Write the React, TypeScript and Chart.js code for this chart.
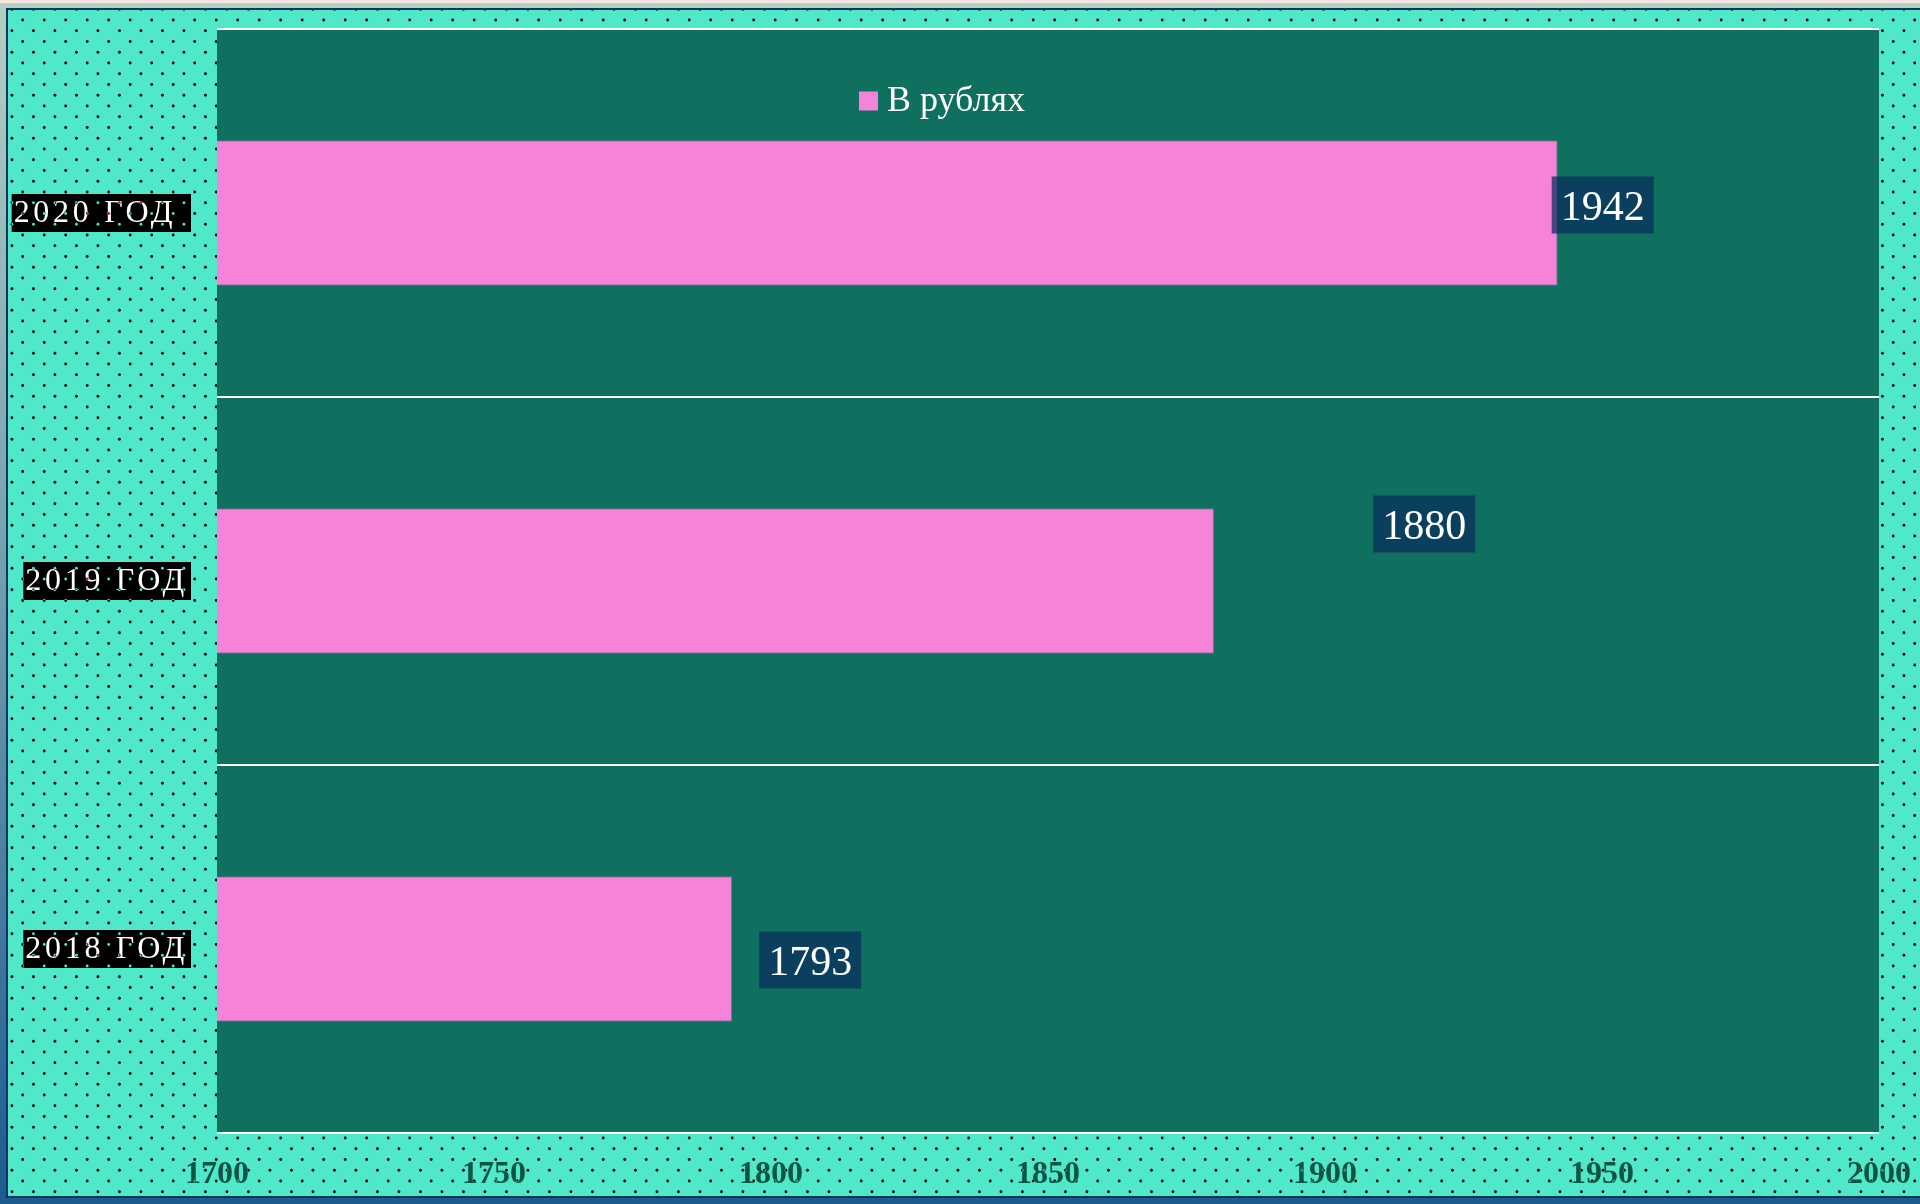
import { useEffect, useRef } from "react";
import { Chart, registerables } from "chart.js";

Chart.register(...registerables);

// data
const yearLabels = ["2020 ГОД ", "2019 ГОД", "2018 ГОД"];
const rubleValues = [1942, 1880, 1793];
const seriesName = "В рублях";
const axisMin = 1700;
const axisMax = 2000;
const axisStep = 50;

// where each value box sits, relative to the bar end / bar middle
const valueBoxShift = [
    { dx: -6, dy: -8 },
    { dx: 159, dy: -57 },
    { dx: 27, dy: 11 },
];

const SERIF = "'Liberation Serif', 'Times New Roman', serif";
const OUTER = "#4fe8c9";
const PLOT_BG = "#10705f";
const PINK = "#f583d9";

const paintPlugin = {
    id: "paint",
    beforeDraw(chart: any) {
        const { ctx, chartArea: a, width, height } = chart;
        ctx.save();
        ctx.fillStyle = OUTER;
        ctx.fillRect(0, 0, width, height);
        ctx.fillStyle = PLOT_BG;
        ctx.fillRect(a.left, a.top, a.right - a.left, a.bottom - a.top);
        ctx.restore();
    },
    afterDatasetsDraw(chart: any) {
        const { ctx } = chart;
        const meta = chart.getDatasetMeta(0);
        ctx.save();
        ctx.font = `42px ${SERIF}`;
        ctx.textBaseline = "middle";
        ctx.textAlign = "center";
        meta.data.forEach((bar: any, i: number) => {
            const txt = String(rubleValues[i]);
            const w = ctx.measureText(txt).width + 18;
            const h = 57;
            const shift = valueBoxShift[i];
            const left = bar.x + shift.dx;
            const cy = bar.y + shift.dy;
            ctx.fillStyle = "rgba(8,45,93,0.72)";
            ctx.fillRect(left, cy - h / 2, w, h);
            ctx.fillStyle = "#ffffff";
            ctx.fillText(txt, left + w / 2, cy + 4);
        });

        // legend, drawn over the plot
        const label = chart.data.datasets[0].label;
        const lx = chart.width / 2 - 105;
        const ly = 91;
        ctx.fillStyle = PINK;
        ctx.fillRect(lx, ly - 9.5, 19, 19);
        ctx.font = `36px ${SERIF}`;
        ctx.textAlign = "left";
        ctx.fillStyle = "#ffffff";
        ctx.fillText(label, lx + 28, ly + 1);
        ctx.restore();
    },
    afterDraw(chart: any) {
        const { ctx, chartArea: a, width, height } = chart;
        const yScale = chart.scales.y;

        // category labels on black boxes
        ctx.save();
        ctx.font = `32px ${SERIF}`;
        (ctx as any).letterSpacing = "3.7px";
        ctx.textBaseline = "middle";
        ctx.textAlign = "left";
        yearLabels.forEach((lab, i) => {
            const y = yScale.getPixelForTick(i);
            const tw = ctx.measureText(lab).width;
            const right = 183;
            const left = right - tw - 5;
            ctx.fillStyle = "#000000";
            ctx.fillRect(left, y - 19, right - left, 38);
            ctx.fillStyle = "#ffffff";
            ctx.fillText(lab, left + 2, y + 1);
        });
        (ctx as any).letterSpacing = "0px";
        ctx.restore();

        // dotted pattern outside the plot
        ctx.save();
        ctx.beginPath();
        ctx.rect(0, 0, width, height);
        ctx.rect(a.left, a.top, a.right - a.left, a.bottom - a.top);
        ctx.clip("evenodd");
        ctx.globalCompositeOperation = "difference";
        ctx.fillStyle = OUTER;
        const sx = 21.5;
        const sy = 10.75;
        for (let k = -1; k * sy < height + sy; k++) {
            const y = 10 + k * sy;
            const x0 = (k % 2 === 0) ? 14.7 : 3.95;
            for (let x = x0 - sx; x < width + sx; x += sx) {
                ctx.beginPath();
                ctx.arc(x, y, 1.4, 0, Math.PI * 2);
                ctx.fill();
            }
        }
        ctx.restore();
    },
};

const RubleChart = () => {
    const chartRef = useRef<HTMLCanvasElement>(null);
    const chartInstance = useRef<Chart | null>(null);

    useEffect(() => {
        if (!chartRef.current) return;
        if (chartInstance.current) {
            chartInstance.current.destroy();
        }
        const ctx = chartRef.current.getContext("2d");
        if (!ctx) return;

        chartInstance.current = new Chart(ctx, {
            type: "bar",
            data: {
                labels: yearLabels,
                datasets: [
                    {
                        label: seriesName,
                        data: rubleValues,
                        backgroundColor: PINK,
                        borderColor: "rgba(160,95,150,0.7)",
                        borderWidth: 1,
                        barPercentage: 0.395,
                        categoryPercentage: 1,
                    },
                ],
            },
            options: {
                indexAxis: "y",
                responsive: true,
                maintainAspectRatio: false,
                animation: false,
                events: [],
                layout: {
                    padding: { top: 19, right: 41, left: 0, bottom: 0 },
                },
                plugins: {
                    legend: { display: false },
                    tooltip: { enabled: false },
                    title: { display: false },
                },
                scales: {
                    x: {
                        type: "linear",
                        min: axisMin,
                        max: axisMax,
                        ticks: {
                            stepSize: axisStep,
                            color: "#0d5444",
                            padding: 15,
                            maxRotation: 0,
                            font: { family: SERIF, size: 32, weight: "bold" },
                            callback: (v: any) => String(v),
                        },
                        grid: { display: false },
                        border: { display: false },
                        afterFit: (scale: any) => {
                            scale.height = 63;
                            scale.paddingLeft = 0;
                            scale.paddingRight = 0;
                        },
                    },
                    y: {
                        type: "category",
                        ticks: { display: false },
                        grid: {
                            offset: true,
                            color: "#ffffff",
                            lineWidth: 2,
                            drawTicks: false,
                        },
                        border: { display: false },
                        afterFit: (scale: any) => {
                            scale.width = 209;
                        },
                    },
                },
            },
            plugins: [paintPlugin],
        } as any);

        return () => {
            if (chartInstance.current) {
                chartInstance.current.destroy();
                chartInstance.current = null;
            }
        };
    }, []);

    return (
        <div style={{ position: "fixed", inset: 0, background: "linear-gradient(180deg, #b3d0c3 0%, #6f9cac 50%, #1b5b90 100%)" }}>
            <div style={{ position: "absolute", left: 0, top: 0, right: 0, height: 3, background: "#f7e6de", borderBottom: "1px solid #efc3a8" }} />
            <div
                style={{
                    position: "absolute",
                    left: 6,
                    top: 8,
                    width: 1914,
                    height: 1190,
                    boxSizing: "border-box",
                    borderLeft: "2px solid #0b3462",
                    borderTop: "2px solid #0b3462",
                    borderBottom: "2px solid #0b3462",
                    background: OUTER,
                }}
            >
                <div style={{ position: "relative", width: 1912, height: 1186 }}>
                    <canvas ref={chartRef}></canvas>
                </div>
            </div>
        </div>
    );
};

export default function App() {
    return <RubleChart />;
}
